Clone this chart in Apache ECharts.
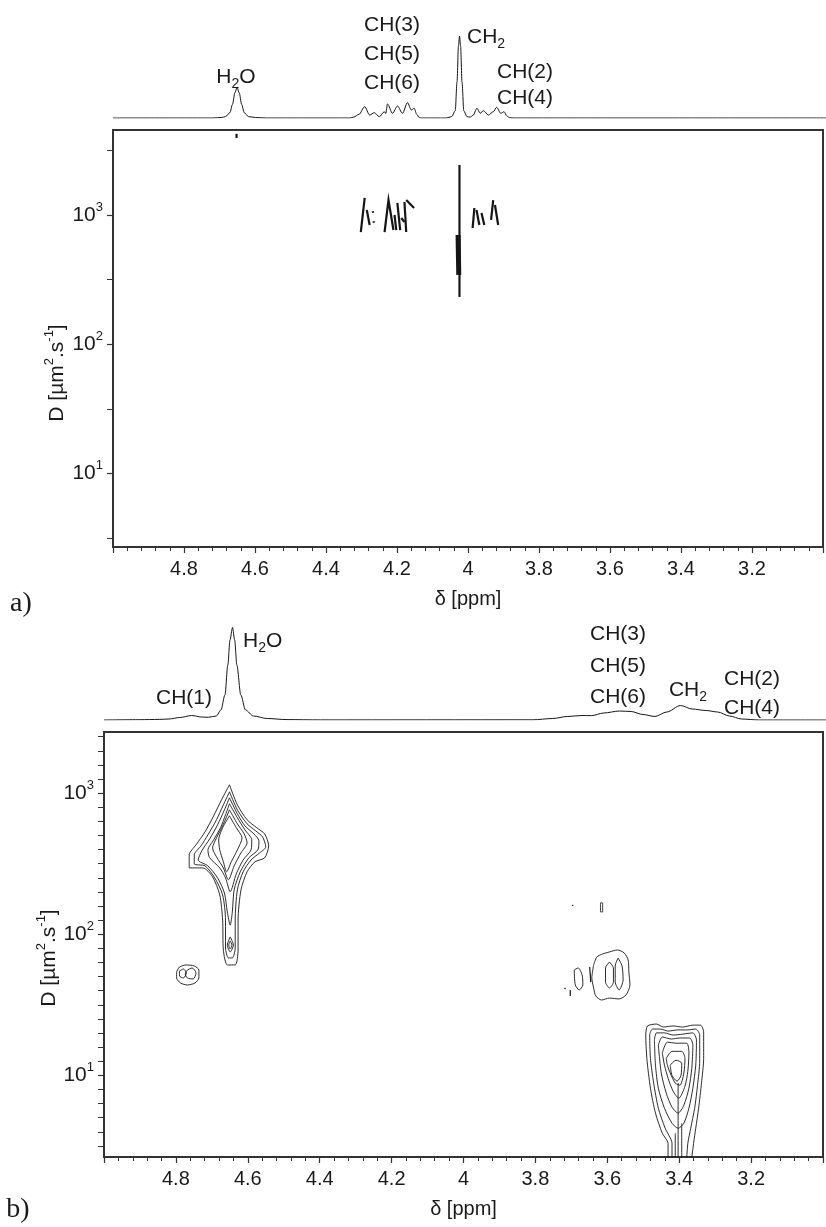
<!DOCTYPE html>
<html>
<head>
<meta charset="utf-8">
<title>DOSY spectra</title>
<script src="https://cdn.jsdelivr.net/npm/echarts@6/dist/echarts.min.js"></script>
<style>
    html, body { margin: 0; padding: 0; background: #fff; }
    #dosy_chart { width: 826px; height: 1227px; }
</style>
</head>
<body>
<div id="dosy_chart"></div>
<script>
// ------------------------------
// Data (ppm, intensity) and (ppm, D in um2/s)
// ------------------------------

var ppmRange = [3.0, 5.0];
var ppmStep = 0.2;
var dRangeA = [2.69, 4550];
var dRangeB = [2.64, 2710];
var dTicks = [10, 100, 1000];

// 1D spectrum on top of panel a
var spectrumA = [
    [5.0, 0], [4.72, 0], [4.695, 0.6], [4.684, 1.6], [4.672, 6], [4.665, 15], [4.658, 28], [4.652, 34.1],
    [4.646, 28], [4.639, 15], [4.632, 6], [4.620, 1.6], [4.60, 0.5], [4.57, 0],
    [4.335, 0], [4.325, 1], [4.310, 4], [4.294, 12.6], [4.280, 3.3], [4.267, 5.9], [4.253, 1.4], [4.239, 7],
    [4.235, 5], [4.230, 15.6], [4.216, 5.2], [4.202, 13.3], [4.188, 5.2], [4.174, 17], [4.163, 8.9],
    [4.155, 10.8], [4.148, 4], [4.141, 0.5], [4.135, 0],
    [4.065, 0], [4.050, 1.5], [4.040, 8], [4.035, 40], [4.031, 80], [4.028, 91.1], [4.025, 80], [4.021, 40],
    [4.016, 8], [4.007, 1.5], [3.998, 1], [3.990, 3], [3.979, 10.8], [3.970, 5.2], [3.961, 8.1], [3.947, 3.3],
    [3.933, 7], [3.924, 11.9], [3.912, 5.2], [3.903, 7], [3.895, 2], [3.887, 0.3], [3.875, 0], [3.0, 0]
];

// 1D spectrum on top of panel b
var spectrumB = [
    [5.0, 0], [4.90, 0.3], [4.847, 0.6], [4.82, 1], [4.79, 2.5], [4.757, 4.5], [4.73, 3], [4.711, 2.7],
    [4.689, 4], [4.676, 10], [4.665, 25], [4.657, 55], [4.651, 80], [4.644, 92.5], [4.638, 80], [4.632, 55],
    [4.621, 25], [4.608, 10], [4.586, 4], [4.548, 1.5], [4.493, 0.4], [4.40, 0.1],
    [3.812, 0.2], [3.757, 1.5], [3.717, 3.5], [3.676, 4.5], [3.649, 4.4], [3.616, 7], [3.572, 9], [3.540, 8.5],
    [3.507, 5.5], [3.474, 3.5], [3.441, 8], [3.403, 14.5], [3.371, 11], [3.332, 9.5], [3.300, 8], [3.267, 4],
    [3.234, 1], [3.185, 0], [3.0, 0]
];

// Panel a: short dense contour streaks
var streaksA = [
    [[4.302, 738], [4.291, 1355]],
    [[4.285, 1094], [4.277, 837]],
    [[4.268, 1070], [4.267, 1040]],
    [[4.266, 895], [4.265, 870]],
    [[4.235, 738], [4.224, 1306], [4.210, 765]],
    [[4.207, 1000], [4.202, 765]],
    [[4.199, 1239], [4.191, 765]],
    [[4.188, 948], [4.179, 883]],
    [[4.179, 1261], [4.174, 738]],
    [[4.174, 1306], [4.152, 1133]],
    [[4.024, 2438], [4.024, 232]],
    [[3.987, 793], [3.982, 1133]],
    [[3.976, 1094], [3.968, 837]],
    [[3.962, 1036], [3.954, 837]],
    [[3.935, 915], [3.929, 1306]],
    [[3.924, 1195], [3.915, 837]],
    [[4.652, 4250], [4.652, 3950]]
];
var ch2CoreA = [
    [[4.028, 700], [4.026, 344]]
];

// Panel b: water (closed rings, outer to inner)
var h2oRingsB = [
    [[4.651, 1145], [4.629, 826], [4.602, 647], [4.575, 568], [4.553, 514], [4.542, 423], [4.553, 348], [4.580, 326],
     [4.602, 277], [4.619, 206], [4.627, 126], [4.627, 77.4], [4.635, 60.6], [4.657, 60.6], [4.668, 77.4], [4.670, 126],
     [4.678, 190], [4.698, 255], [4.725, 295], [4.763, 295], [4.763, 365], [4.744, 430], [4.719, 531], [4.695, 690], [4.673, 897]],
    [[4.651, 1021], [4.629, 761], [4.602, 606], [4.578, 540], [4.559, 490], [4.550, 416], [4.567, 377], [4.591, 336],
     [4.613, 277], [4.629, 206], [4.635, 126], [4.635, 80], [4.643, 67.9], [4.654, 67.9], [4.662, 80], [4.662, 126],
     [4.670, 190], [4.692, 251], [4.719, 305], [4.749, 315], [4.749, 365], [4.730, 423], [4.711, 506], [4.687, 647], [4.668, 826]],
    [[4.651, 926], [4.629, 713], [4.608, 586], [4.583, 514], [4.569, 459], [4.572, 396], [4.597, 348], [4.621, 277],
     [4.638, 206], [4.643, 144], [4.649, 116], [4.657, 144], [4.665, 196], [4.684, 251], [4.711, 305], [4.738, 336],
     [4.728, 390], [4.706, 474], [4.684, 596], [4.665, 761]],
    [[4.651, 840], [4.629, 668], [4.608, 549], [4.589, 466], [4.591, 396], [4.613, 336], [4.632, 268], [4.649, 200],
     [4.662, 251], [4.678, 295], [4.706, 348], [4.711, 396], [4.695, 466], [4.676, 568], [4.662, 702]],
    [[4.651, 761], [4.629, 606], [4.610, 514], [4.602, 444], [4.619, 377], [4.638, 305], [4.654, 243], [4.668, 295],
     [4.687, 353], [4.698, 409], [4.687, 482], [4.670, 586]],
    [[4.651, 690], [4.632, 568], [4.616, 482], [4.629, 396], [4.646, 326], [4.659, 277], [4.668, 326], [4.678, 396],
     [4.681, 466], [4.670, 568]],
    [[4.649, 95.7], [4.640, 83.9], [4.649, 74.9], [4.657, 83.9]],
    [[4.649, 89.7], [4.644, 83.9], [4.649, 78.6], [4.653, 83.9]]
];

// Panel b: CH(1)
var ch1RingsB = [
    [[4.798, 54.0], [4.790, 58.6], [4.771, 60.6], [4.749, 59.6], [4.736, 55.8], [4.736, 49.0], [4.747, 45.1],
     [4.768, 43.7], [4.787, 45.1], [4.798, 49.0]],
    [[4.790, 54.9], [4.779, 56.7], [4.771, 53.1], [4.779, 49.0], [4.790, 50.6]],
    [[4.768, 55.8], [4.755, 57.7], [4.744, 53.1], [4.752, 48.2], [4.768, 49.0], [4.774, 52.3]]
];

// Panel b: CH(3), CH(5), CH(6)
var ch356RingsB = [
    [[3.638, 60.6], [3.629, 69.0], [3.613, 72.5], [3.594, 74.9], [3.572, 77.4], [3.553, 73.7], [3.542, 65.7],
     [3.540, 54.0], [3.537, 43.7], [3.548, 37.1], [3.567, 34.8], [3.594, 35.3], [3.616, 34.2], [3.632, 36.5],
     [3.638, 41.6], [3.643, 49.0]],
    [[3.594, 63.6], [3.583, 57.7], [3.583, 45.9], [3.594, 41.6], [3.605, 45.9], [3.605, 57.7]],
    [[3.570, 67.9], [3.559, 59.6], [3.556, 47.4], [3.567, 40.3], [3.578, 45.9], [3.578, 59.6]],
    [[3.692, 55.8], [3.681, 57.7], [3.670, 51.4], [3.668, 43.7], [3.678, 40.3], [3.689, 43.7]],
    [[3.619, 166.7], [3.613, 166.7], [3.613, 143.9], [3.619, 143.9]]
];
var ch356BitsB = [
    [[3.649, 58.6], [3.646, 45.9]],
    [[3.703, 40.3], [3.703, 36.5]],
    [[3.719, 41.6], [3.716, 40.9]],
    [[3.698, 161.3], [3.695, 158.7]]
];

// Panel b: CH2 (outer two run off the bottom edge)
var ch2OpenB = [
    [[3.431, 2.6], [3.431, 3.30], [3.447, 3.89], [3.466, 5.40], [3.480, 8.11], [3.490, 13.2], [3.493, 19.3],
     [3.488, 22.4], [3.463, 23.1], [3.444, 22.0], [3.417, 22.4], [3.390, 22.0], [3.362, 22.7], [3.341, 22.7],
     [3.332, 20.3], [3.332, 13.2], [3.338, 8.81], [3.346, 5.85], [3.354, 4.22], [3.360, 3.30], [3.365, 2.6]],
    [[3.420, 2.6], [3.420, 3.30], [3.439, 4.22], [3.458, 5.85], [3.471, 8.81], [3.480, 13.2], [3.482, 19.3],
     [3.474, 21.3], [3.452, 21.3], [3.431, 20.6], [3.403, 21.0], [3.376, 21.0], [3.354, 21.3], [3.343, 19.3],
     [3.343, 12.6], [3.349, 8.52], [3.357, 5.85], [3.368, 4.22], [3.376, 3.30], [3.379, 2.6]],
    [[3.403, 8.81], [3.403, 2.6]],
    [[3.393, 4.58], [3.393, 2.6]],
    [[3.411, 3.89], [3.411, 2.6]]
];
var ch2RingsB = [
    [[3.469, 17.8], [3.463, 20.0], [3.441, 20.0], [3.417, 19.3], [3.390, 19.6], [3.362, 20.0], [3.352, 17.8],
     [3.354, 11.8], [3.362, 8.11], [3.373, 5.85], [3.387, 4.58], [3.403, 4.22], [3.420, 4.58], [3.441, 5.85],
     [3.458, 8.11], [3.466, 11.8]],
    [[3.458, 16.4], [3.447, 18.7], [3.422, 18.1], [3.398, 18.4], [3.371, 18.4], [3.362, 16.4], [3.365, 11.2],
     [3.373, 8.11], [3.387, 6.15], [3.403, 5.40], [3.420, 5.95], [3.436, 7.48], [3.450, 10.4]],
    [[3.447, 14.4], [3.433, 17.2], [3.409, 16.9], [3.379, 16.9], [3.373, 14.4], [3.376, 10.7], [3.384, 8.38],
     [3.401, 6.89], [3.417, 7.73], [3.431, 9.55], [3.441, 11.8]],
    [[3.436, 13.2], [3.420, 14.8], [3.393, 14.8], [3.384, 13.2], [3.387, 10.4], [3.398, 8.52], [3.411, 8.81],
     [3.425, 10.4], [3.433, 11.8]],
    [[3.425, 11.8], [3.409, 12.8], [3.393, 12.2], [3.395, 10.0], [3.406, 9.10], [3.420, 10.0]]
];


// ------------------------------
// Chart
// ------------------------------

var DosyChart = function() {

    var fontFamily = '"Liberation Sans", Arial, sans-serif',
        inkColor = '#151515',
        axisColor = '#333',
        textColor = '#1a1a1a';

    var toLog = function(points) {
        return points.map(function(p) { return [p[0], Math.log10(p[1])]; });
    };

    // one line series per contour level
    var contourSeries = function(rings, closed, xi, yi, width) {
        return rings.map(function(ring) {
            var pts = closed ? ring.concat([ring[0]]) : ring;
            return {
                type: 'line',
                xAxisIndex: xi,
                yAxisIndex: yi,
                data: toLog(pts),
                symbol: 'none',
                smooth: 0.25,
                silent: true,
                lineStyle: { color: inkColor, width: width || 0.9 },
                z: 3
            };
        });
    };

    var spectrumSeries = function(data, idx) {
        return {
            type: 'line',
            xAxisIndex: idx,
            yAxisIndex: idx,
            data: data,
            symbol: 'none',
            smooth: 0.3,
            smoothMonotone: 'x',
            silent: true,
            lineStyle: { color: inkColor, width: 1 }
        };
    };

    var hiddenPpmAxis = function(gridIndex) {
        return { type: 'value', gridIndex: gridIndex, min: ppmRange[0], max: ppmRange[1], inverse: true, show: false };
    };

    var ppmAxis = function(gridIndex) {
        return {
            type: 'value',
            gridIndex: gridIndex,
            min: ppmRange[0],
            max: ppmRange[1],
            interval: ppmStep,
            inverse: true,
            name: 'δ [ppm]',
            nameLocation: 'middle',
            nameGap: 42,
            nameTextStyle: { fontSize: 20, color: textColor, fontFamily: fontFamily },
            axisLine: { show: true, onZero: false, lineStyle: { color: axisColor, width: 2 } },
            axisTick: { show: true, length: 6, lineStyle: { color: axisColor, width: 1.2 } },
            minorTick: { show: true, splitNumber: 5, length: 4, lineStyle: { color: axisColor, width: 1 } },
            axisLabel: {
                fontSize: 20,
                color: textColor,
                fontFamily: fontFamily,
                margin: 12,
                formatter: function(v) {
                    if (v > ppmRange[1] - 0.01 || v < ppmRange[0] + 0.01) return '';
                    return String(+v.toFixed(1));
                }
            },
            splitLine: { show: false }
        };
    };

    var hiddenIntensityAxis = function(gridIndex) {
        return { type: 'value', gridIndex: gridIndex, min: 0, max: 100, show: false };
    };

    var dAxis = function(gridIndex, range, minorSplit) {
        var tickLogs = dTicks.map(function(d) { return Math.log10(d); });
        return {
            type: 'value',
            gridIndex: gridIndex,
            min: Math.log10(range[0]),
            max: Math.log10(range[1]),
            splitNumber: 3,
            axisLine: { show: true, onZero: false, lineStyle: { color: axisColor, width: 2 } },
            axisTick: { show: true, length: 6, customValues: tickLogs, lineStyle: { color: axisColor, width: 1.2 } },
            minorTick: { show: true, splitNumber: minorSplit, length: 6, lineStyle: { color: axisColor, width: 1 } },
            axisLabel: {
                customValues: tickLogs,
                fontSize: 21,
                lineHeight: 28,
                color: textColor,
                fontFamily: fontFamily,
                margin: 10,
                formatter: function(v) {
                    if (Math.abs(v - Math.round(v)) > 1e-6) return '';
                    return '10{sup|' + Math.round(v) + '}';
                },
                rich: {
                    sup: { fontSize: 13, verticalAlign: 'top', lineHeight: 14, color: textColor, fontFamily: fontFamily }
                }
            },
            splitLine: { show: false }
        };
    };

    // peak label helper
    var label = function(text, x, y, align) {
        return {
            type: 'text',
            x: x,
            y: y,
            silent: true,
            style: {
                text: text,
                align: align || 'center',
                verticalAlign: 'middle',
                fontSize: 21,
                lineHeight: 28,
                fontFamily: fontFamily,
                fill: textColor,
                rich: {
                    sub: { fontSize: 14, verticalAlign: 'bottom', lineHeight: 16, fontFamily: fontFamily, fill: textColor }
                }
            }
        };
    };

    var yName = function(x, y) {
        return {
            type: 'text',
            x: x,
            y: y,
            rotation: Math.PI / 2,
            silent: true,
            style: {
                text: 'D [µm{sup|2}.s{sup|-1}]',
                align: 'center',
                verticalAlign: 'middle',
                fontSize: 21,
                lineHeight: 28,
                fontFamily: fontFamily,
                fill: textColor,
                rich: {
                    sup: { fontSize: 13, verticalAlign: 'top', lineHeight: 14, fontFamily: fontFamily, fill: textColor }
                }
            }
        };
    };

    var panelTag = function(text, x, y) {
        return {
            type: 'text',
            x: x,
            y: y,
            silent: true,
            style: {
                text: text,
                align: 'center',
                verticalAlign: 'middle',
                fontSize: 28,
                fontFamily: '"Liberation Serif", "Times New Roman", serif',
                fill: textColor
            }
        };
    };

    var _init = function() {
        if (typeof echarts == 'undefined') {
            console.warn('Warning - echarts.min.js is not loaded.');
            return;
        }
        var element = document.getElementById('dosy_chart');
        if (!element) return;

        var chart = echarts.init(element, null, { renderer: 'canvas' });

        var series = [];
        series.push(spectrumSeries(spectrumA, 0));
        series.push({
            type: 'lines',
            coordinateSystem: 'cartesian2d',
            xAxisIndex: 1,
            yAxisIndex: 1,
            polyline: true,
            silent: true,
            data: streaksA.map(function(s) { return { coords: toLog(s) }; }),
            lineStyle: { color: inkColor, width: 2.2, opacity: 1 }
        });
        series.push({
            type: 'lines',
            coordinateSystem: 'cartesian2d',
            xAxisIndex: 1,
            yAxisIndex: 1,
            polyline: true,
            silent: true,
            data: ch2CoreA.map(function(s) { return { coords: toLog(s) }; }),
            lineStyle: { color: inkColor, width: 5, opacity: 1 }
        });
        series.push(spectrumSeries(spectrumB, 2));
        series = series
            .concat(contourSeries(h2oRingsB, true, 3, 3))
            .concat(contourSeries(ch1RingsB, true, 3, 3))
            .concat(contourSeries(ch356RingsB, true, 3, 3))
            .concat(contourSeries(ch356BitsB, false, 3, 3, 1.2))
            .concat(contourSeries(ch2OpenB, false, 3, 3))
            .concat(contourSeries(ch2RingsB, true, 3, 3));

        chart.setOption({
            animation: false,
            textStyle: { fontFamily: fontFamily },

            grid: [
                { left: 113, right: -6, top: 28, height: 90 },
                { left: 113, right: -6, top: 130, bottom: 680, show: true, borderColor: axisColor, borderWidth: 2 },
                { left: 104, right: -12, top: 620, height: 100 },
                { left: 104, right: -12, top: 732, bottom: 70, show: true, borderColor: axisColor, borderWidth: 2 }
            ],

            xAxis: [hiddenPpmAxis(0), ppmAxis(1), hiddenPpmAxis(2), ppmAxis(3)],
            yAxis: [hiddenIntensityAxis(0), dAxis(1, dRangeA, 2), hiddenIntensityAxis(2), dAxis(3, dRangeB, 10)],

            graphic: [
                // panel a
                label('H{sub|2}O', 236, 77),
                label('CH(3)', 392, 25),
                label('CH(5)', 392, 54),
                label('CH(6)', 392, 83),
                label('CH{sub|2}', 467, 37, 'left'),
                label('CH(2)', 497, 72, 'left'),
                label('CH(4)', 497, 98, 'left'),
                yName(57, 373),
                panelTag('a)', 21, 604),
                // panel b
                label('CH(1)', 184, 698),
                label('H{sub|2}O', 243, 641, 'left'),
                label('CH(3)', 618, 634),
                label('CH(5)', 618, 666),
                label('CH(6)', 618, 697),
                label('CH{sub|2}', 688, 690),
                label('CH(2)', 752, 679),
                label('CH(4)', 752, 708),
                yName(49, 958),
                panelTag('b)', 18, 1210)
            ],

            series: series
        });
    };

    return {
        init: function() {
            _init();
        }
    };
}();

document.addEventListener('DOMContentLoaded', function() {
    DosyChart.init();
});
</script>
</body>
</html>
